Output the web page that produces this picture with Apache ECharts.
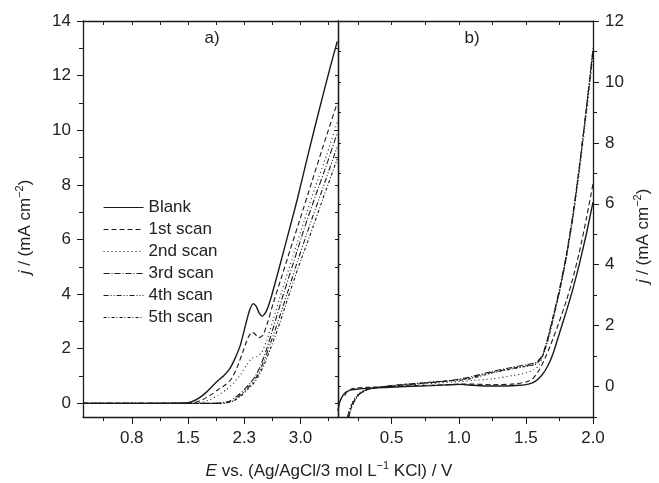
<!DOCTYPE html>
<html>
<head>
<meta charset="utf-8">
<script src="https://cdn.jsdelivr.net/npm/echarts@6/dist/echarts.min.js"></script>
<style>
  html, body { margin: 0; padding: 0; background: #fff; }
  #chart { width: 659px; height: 483px; }
</style>
</head>
<body>
<div id="chart"></div>
<script>
// Linear sweep voltammograms: a) wide potential window, b) narrow window
const seriesNames = ['Blank', '1st scan', '2nd scan', '3rd scan', '4th scan', '5th scan'];

// Panel a) — [E / V, j / mA cm^-2]
const aBlank = [[0.1,0],[1.0,0],[1.45,0.01],[1.55,0.06],[1.65,0.2],[1.75,0.42],[1.85,0.7],[1.92,0.88],[1.98,1.02],[2.05,1.24],[2.12,1.6],[2.2,2.15],[2.27,2.9],[2.32,3.4],[2.37,3.65],[2.41,3.55],[2.45,3.3],[2.49,3.19],[2.54,3.35],[2.6,3.8],[2.72,5.0],[2.85,6.35],[2.96,7.5],[3.1,9.1],[3.25,10.75],[3.4,12.35],[3.49,13.25]];
const aScan1 = [[0.1,0],[1.5,0],[1.6,0.04],[1.7,0.14],[1.8,0.3],[1.9,0.5],[2.0,0.68],[2.08,0.9],[2.16,1.35],[2.24,1.95],[2.3,2.4],[2.35,2.6],[2.39,2.55],[2.44,2.4],[2.5,2.5],[2.56,2.95],[2.64,3.7],[2.74,4.56],[2.86,5.6],[3.0,6.8],[3.15,8.1],[3.3,9.4],[3.49,11.0]];
const aScan2 = [[0.1,0],[1.6,0],[1.7,0.05],[1.8,0.14],[1.9,0.3],[2.0,0.48],[2.1,0.72],[2.2,1.05],[2.28,1.4],[2.35,1.65],[2.42,1.72],[2.48,1.85],[2.55,2.3],[2.64,3.1],[2.75,4.1],[2.9,5.4],[3.05,6.7],[3.2,7.95],[3.35,9.1],[3.49,10.3]];
const aScan3 = [[0.1,0],[1.85,0],[1.95,0.02],[2.05,0.08],[2.15,0.25],[2.25,0.5],[2.33,0.75],[2.4,1.0],[2.47,1.4],[2.55,2.0],[2.64,2.8],[2.75,3.8],[2.9,5.1],[3.05,6.4],[3.2,7.6],[3.35,8.75],[3.49,9.9]];
const aScan4 = [[0.1,0],[1.9,0],[2.0,0.02],[2.1,0.1],[2.2,0.3],[2.3,0.58],[2.38,0.82],[2.45,1.15],[2.52,1.6],[2.6,2.2],[2.7,3.0],[2.82,4.0],[2.96,5.2],[3.12,6.5],[3.3,7.9],[3.49,9.4]];
const aScan5 = [[0.1,0],[1.9,0],[2.0,0.01],[2.1,0.08],[2.2,0.26],[2.3,0.52],[2.38,0.75],[2.45,1.05],[2.52,1.45],[2.6,2.0],[2.7,2.75],[2.82,3.75],[2.96,4.9],[3.12,6.1],[3.3,7.5],[3.49,8.95]];

// Panel b)
const bBlank = [[0.1,-0.8],[0.11,-0.55],[0.125,-0.38],[0.145,-0.24],[0.17,-0.16],[0.2,-0.11],[0.25,-0.08],[0.32,-0.06],[0.45,-0.03],[0.6,0.0],[0.8,0.03],[0.95,0.06],[1.02,0.07],[1.1,0.04],[1.2,0.02],[1.35,0.02],[1.45,0.04],[1.52,0.08],[1.57,0.17],[1.62,0.38],[1.66,0.65],[1.7,1.05],[1.75,1.75],[1.8,2.45],[1.85,3.2],[1.9,4.05],[1.95,5.0],[2.0,6.05]];
const bScan1 = [[0.15,-0.3],[0.17,-0.15],[0.2,-0.08],[0.25,-0.04],[0.35,-0.02],[0.5,0.0],[0.7,0.03],[0.9,0.06],[1.0,0.08],[1.1,0.08],[1.25,0.06],[1.4,0.08],[1.5,0.15],[1.55,0.25],[1.6,0.55],[1.65,1.0],[1.7,1.55],[1.75,2.15],[1.8,2.8],[1.85,3.55],[1.9,4.45],[1.95,5.5],[2.0,6.65]];
const bScan2 = [[0.17,-1.0],[0.19,-0.7],[0.22,-0.4],[0.26,-0.2],[0.32,-0.08],[0.4,-0.02],[0.55,0.03],[0.7,0.07],[0.85,0.12],[1.0,0.16],[1.1,0.2],[1.25,0.25],[1.4,0.36],[1.5,0.45],[1.56,0.55],[1.6,0.72],[1.65,1.35],[1.7,2.2],[1.75,3.1],[1.8,4.2],[1.85,5.5],[1.9,7.1],[1.95,8.9],[2.0,10.85]];
const bScan3 = [[0.17,-1.0],[0.19,-0.72],[0.22,-0.45],[0.26,-0.24],[0.32,-0.1],[0.4,-0.03],[0.55,0.04],[0.7,0.1],[0.85,0.15],[1.0,0.24],[1.1,0.33],[1.25,0.5],[1.4,0.63],[1.5,0.72],[1.57,0.78],[1.62,1.0],[1.66,1.55],[1.7,2.25],[1.75,3.2],[1.8,4.3],[1.85,5.65],[1.9,7.3],[1.95,9.1],[2.0,11.0]];
const bScan4 = [[0.18,-1.0],[0.2,-0.7],[0.23,-0.42],[0.27,-0.22],[0.33,-0.09],[0.42,-0.02],[0.55,0.05],[0.7,0.1],[0.85,0.16],[1.0,0.22],[1.1,0.3],[1.25,0.47],[1.4,0.6],[1.5,0.68],[1.57,0.75],[1.62,0.98],[1.66,1.5],[1.7,2.2],[1.75,3.15],[1.8,4.25],[1.85,5.6],[1.9,7.25],[1.95,9.1],[2.0,11.05]];
const bScan5 = [[0.18,-1.0],[0.2,-0.68],[0.23,-0.4],[0.27,-0.2],[0.33,-0.08],[0.42,-0.01],[0.55,0.06],[0.7,0.11],[0.85,0.17],[1.0,0.2],[1.1,0.27],[1.25,0.45],[1.4,0.58],[1.5,0.66],[1.57,0.72],[1.62,0.95],[1.66,1.45],[1.7,2.15],[1.75,3.1],[1.8,4.2],[1.85,5.55],[1.9,7.2],[1.95,9.1],[2.0,11.1]];

// Tick positions
const aXMajor = [0.75, 1.5, 2.25, 3.0];
const aXMinor = [0.375, 1.125, 1.875, 2.625, 3.375];
const bXMajor = [0.5, 1.0, 1.5, 2.0];
const bXMinor = [0.25, 0.75, 1.25, 1.75];
const aYMajor = [0, 2, 4, 6, 8, 10, 12, 14];
const aYMinor = [1, 3, 5, 7, 9, 11, 13];
const bYMajor = [0, 2, 4, 6, 8, 10, 12];
const bYMinor = [-1, 1, 3, 5, 7, 9, 11];

const FONT = '"Liberation Sans", Arial, Helvetica, sans-serif';
const INK = '#1a1a1a';
const TEXT = '#222';
const dashes = ['solid', [5, 3], [1, 3], [6, 2, 1, 2], [5, 2, 1, 2, 1, 2], [3, 2, 1, 2]];

const gridA = { left: 83, top: 21, width: 255, height: 396 };
const gridB = { left: 338, top: 21, width: 255, height: 396 };

function axis(gridIndex, position, min, max, opt) {
  const o = {
    type: 'value', gridIndex, position, min, max,
    splitLine: { show: false },
    axisLine: { show: !!opt.line, onZero: false, lineStyle: { color: INK, width: 1.3 } },
    axisTick: {
      show: true, inside: !!opt.inside, length: opt.len,
      customValues: opt.ticks, lineStyle: { color: INK, width: 1 }
    },
    axisLabel: { show: false }
  };
  if (opt.labels) {
    o.axisLabel = {
      show: true, customValues: opt.ticks, formatter: opt.fmt,
      margin: opt.margin, fontSize: 17, fontFamily: FONT, color: TEXT
    };
  }
  return o;
}

const fmt1 = v => Number(v).toFixed(1);
const fmt0 = v => String(Math.round(v));

const xAxis = [
  axis(0, 'bottom', 0.1, 3.5, { line: true, len: 7, ticks: aXMajor, labels: true, fmt: fmt1, margin: 13 }),
  axis(0, 'bottom', 0.1, 3.5, { len: 4, ticks: aXMinor }),
  axis(0, 'top', 0.1, 3.5, { line: true, inside: true, len: 4, ticks: aXMajor.concat(aXMinor) }),
  axis(1, 'bottom', 0.1, 2.0, { line: true, len: 7, ticks: bXMajor, labels: true, fmt: fmt1, margin: 13 }),
  axis(1, 'bottom', 0.1, 2.0, { len: 4, ticks: bXMinor }),
  axis(1, 'top', 0.1, 2.0, { line: true, inside: true, len: 4, ticks: bXMajor.concat(bXMinor) })
];
const yAxis = [
  axis(0, 'left', -0.5, 14, { line: true, len: 6, ticks: aYMajor, labels: true, fmt: fmt0, margin: 12 }),
  axis(0, 'left', -0.5, 14, { len: 4, ticks: aYMinor }),
  axis(0, 'right', -0.5, 14, { line: true, inside: true, len: 3, ticks: aYMajor.concat(aYMinor) }),
  axis(1, 'right', -1, 12, { line: true, len: 6, ticks: bYMajor, labels: true, fmt: fmt0, margin: 12 }),
  axis(1, 'right', -1, 12, { len: 4, ticks: bYMinor }),
  axis(1, 'left', -1, 12, { line: true, inside: true, len: 3, ticks: bYMajor.concat(bYMinor) })
];

function line(name, data, idx, xi, yi) {
  return {
    type: 'line', name, data, xAxisIndex: xi, yAxisIndex: yi,
    symbol: 'none', smooth: 0.2, silent: true,
    itemStyle: { color: INK },
    lineStyle: { color: INK, width: idx === 0 ? 1.4 : 1.1, type: dashes[idx] },
    animation: false, z: 10 - idx
  };
}

const aSets = [aBlank, aScan1, aScan2, aScan3, aScan4, aScan5];
const bSets = [bBlank, bScan1, bScan2, bScan3, bScan4, bScan5];
const series = [];
aSets.forEach((d, i) => series.push(line(seriesNames[i], d, i, 0, 0)));
bSets.forEach((d, i) => series.push(line(seriesNames[i], d, i, 3, 3)));

const titleRich = {
  i: { fontStyle: 'italic', fontSize: 17, lineHeight: 22, fontFamily: FONT, fill: TEXT },
  sup: { fontSize: 11, lineHeight: 22, verticalAlign: 'top', fontFamily: FONT, fill: TEXT }
};
function titleText(x, y, text, rotation) {
  return {
    type: 'text', x, y, rotation: rotation || 0, silent: true,
    style: {
      text, rich: titleRich, fontSize: 17, lineHeight: 22, fontFamily: FONT, fill: TEXT,
      align: 'center', verticalAlign: 'middle'
    }
  };
}

const chart = echarts.init(document.getElementById('chart'), null, { renderer: 'canvas' });
chart.setOption({
  animation: false,
  backgroundColor: '#fff',
  grid: [
    Object.assign({ containLabel: false, outerBoundsMode: 'none' }, gridA),
    Object.assign({ containLabel: false, outerBoundsMode: 'none' }, gridB)
  ],
  xAxis, yAxis, series,
  legend: {
    data: seriesNames, orient: 'vertical', left: 98, top: 194,
    itemWidth: 40, itemHeight: 14, itemGap: 5,
    selectedMode: false,
    lineStyle: { width: 1.1 },
    itemStyle: { color: 'rgba(0,0,0,0)', borderWidth: 0, opacity: 0 },
    textStyle: { fontSize: 17, fontFamily: FONT, color: TEXT }
  },
  graphic: [
    titleText(212, 38, 'a)'),
    titleText(472, 38, 'b)'),
    titleText(329, 471, '{i|E} vs. (Ag/AgCl/3 mol L{sup|−1} KCl) / V'),
    titleText(25, 227, '{i|j} / (mA cm{sup|−2})', Math.PI / 2),
    titleText(643, 236, '{i|j} / (mA cm{sup|−2})', Math.PI / 2)
  ]
});
</script>
</body>
</html>
